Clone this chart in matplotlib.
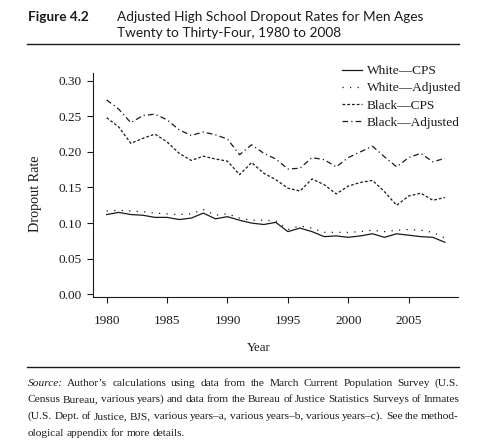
import matplotlib
matplotlib.use("Agg")
import matplotlib.pyplot as plt

W, H = 480, 440

years = list(range(1980, 2009))
white_cps = [0.112, 0.115, 0.112, 0.111, 0.108, 0.108, 0.105, 0.107, 0.114, 0.106,
             0.109, 0.104, 0.100, 0.098, 0.101, 0.088, 0.093, 0.088, 0.081, 0.082,
             0.080, 0.082, 0.085, 0.080, 0.085, 0.083, 0.081, 0.080, 0.073]
white_adj = [0.117, 0.118, 0.117, 0.116, 0.114, 0.113, 0.112, 0.113, 0.119, 0.111,
             0.113, 0.107, 0.104, 0.104, 0.103, 0.091, 0.096, 0.093, 0.087, 0.087,
             0.087, 0.088, 0.090, 0.088, 0.090, 0.091, 0.090, 0.087, 0.079]
black_cps = [0.248, 0.235, 0.212, 0.219, 0.225, 0.214, 0.198, 0.188, 0.194, 0.190,
             0.187, 0.168, 0.185, 0.170, 0.161, 0.149, 0.145, 0.162, 0.154, 0.141,
             0.152, 0.157, 0.160, 0.144, 0.125, 0.138, 0.142, 0.132, 0.136]
black_adj = [0.273, 0.260, 0.241, 0.251, 0.253, 0.245, 0.231, 0.223, 0.228, 0.224,
             0.218, 0.196, 0.210, 0.198, 0.190, 0.176, 0.177, 0.192, 0.189, 0.179,
             0.192, 0.200, 0.208, 0.193, 0.179, 0.192, 0.198, 0.186, 0.191]

series_labels = ["White\u2014CPS", "White\u2014Adjusted", "Black\u2014CPS", "Black\u2014Adjusted"]
x_ticks = [1980, 1985, 1990, 1995, 2000, 2005]
y_ticks = [0.00, 0.05, 0.10, 0.15, 0.20, 0.25, 0.30]

source_lines = [
    "Author\u2019s calculations using data from the March Current Population Survey (U.S.",
    "Census Bureau, various years) and data from the Bureau of Justice Statistics Surveys of Inmates",
    "(U.S. Dept. of Justice, BJS, various years\u2013a, various years\u2013b, various years\u2013c). See the method-",
    "ological appendix for more details.",
]


def fx(px):
    return px / W


def fy(py):
    return 1 - py / H


serif = "Liberation Serif"
ink = "#1a1a1a"

fig = plt.figure(figsize=(4.8, 4.4), dpi=100)
ax = fig.add_axes([fx(93), fy(297), fx(458) - fx(93), fy(72.7) - fy(297)])

styles = ["-", (0, (1, 5)), (0, (2.2, 1.6)), (0, (4.5, 2.5, 1, 2.5))]
for vals, lab, ls in zip([white_cps, white_adj, black_cps, black_adj], series_labels, styles):
    ax.plot(years, vals, color=ink, lw=0.9, linestyle=ls, label=lab)

ax.set_xlim(1978.87, 2009.08)
ax.set_ylim(-0.0038, 0.3112)
ax.set_xticks(x_ticks)
ax.set_yticks(y_ticks)
ax.set_yticklabels(["%.2f" % v for v in y_ticks])
for s in ["top", "right"]:
    ax.spines[s].set_visible(False)
for s in ["left", "bottom"]:
    ax.spines[s].set_linewidth(0.8)
    ax.spines[s].set_color(ink)
ax.tick_params(axis="both", direction="out", length=4, width=0.8, color=ink,
               labelsize=9.5, labelcolor=ink)
ax.tick_params(axis="x", pad=9)
ax.tick_params(axis="y", pad=4)
for lab in ax.get_xticklabels() + ax.get_yticklabels():
    lab.set_family(serif)

leg = ax.legend(loc="upper left", bbox_to_anchor=(fx(342), fy(65)),
                bbox_transform=fig.transFigure,
                frameon=False, prop={"family": serif, "size": 9.6},
                handlelength=1.5, handletextpad=0.35, labelspacing=0.36,
                borderaxespad=0, borderpad=0)
for t in leg.get_texts():
    t.set_color(ink)

fig.text(fx(35), fy(194), "Dropout Rate", rotation=90, ha="center", va="center",
         family=serif, size=10.2, color=ink)
fig.text(fx(259), fy(348), "Year", ha="center", va="center",
         family=serif, size=9.3, color=ink)

# header
fig.text(fx(28), fy(17), "Figure 4.2", ha="left", va="center",
         family="Lato", weight="bold", size=9.8, color=ink)
fig.text(fx(116.7), fy(17), "Adjusted High School Dropout Rates for Men Ages",
         ha="left", va="center", family="Lato", size=9.8, color=ink)
fig.text(fx(116.7), fy(33), "Twenty to Thirty-Four, 1980 to 2008",
         ha="left", va="center", family="Lato", size=9.8, color=ink)
fig.add_artist(plt.Line2D([fx(27), fx(459)], [fy(44.3), fy(44.3)], color=ink, lw=1))
fig.add_artist(plt.Line2D([fx(27), fx(459)], [fy(367.3), fy(367.3)], color=ink, lw=1))

# source note, justified by spreading the words across the full width
fig.canvas.draw()
rend = fig.canvas.get_renderer()
left, right = 27.5, 459
line_base = [385.5, 402.2, 418.9, 435.6]
src_size = 8.2
for i, line in enumerate(source_lines):
    words = line.split(" ")
    if i == 0:
        words = ["Source:"] + words
    arts = []
    for j, w in enumerate(words):
        style = "italic" if (i == 0 and j == 0) else "normal"
        t = fig.text(0, fy(line_base[i]), w, ha="left", va="baseline", family=serif,
                     style=style, size=src_size, color=ink)
        arts.append(t)
    widths = [a.get_window_extent(rend).width for a in arts]
    if i < len(source_lines) - 1:
        gap = (right - left - sum(widths)) / (len(words) - 1)
    else:
        gap = 2.6
    xpos = left
    for a, wd in zip(arts, widths):
        a.set_x(fx(xpos))
        xpos += wd + gap

fig.savefig("out.png", dpi=100)
